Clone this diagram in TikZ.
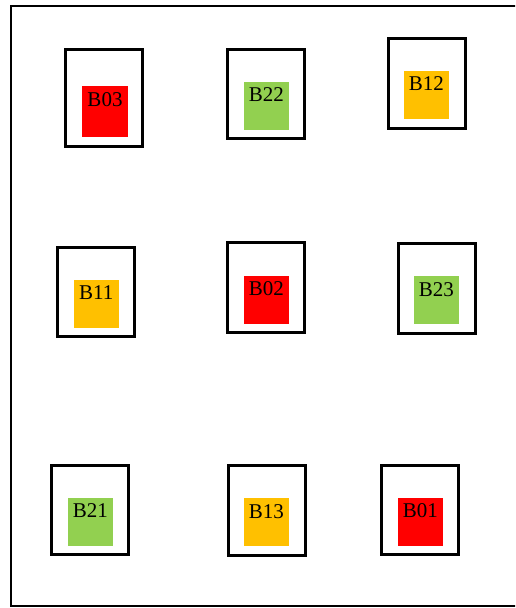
\documentclass[tikz,border=0pt]{standalone}
\usepackage{fontspec}
\setmainfont{Liberation Serif}
\usepackage{xcolor}
\usepackage{tikz}
\usetikzlibrary{positioning}

\definecolor{binred}{HTML}{FF0000}
\definecolor{bingold}{HTML}{FFC000}
\definecolor{bingreen}{HTML}{92D050}

\begin{document}
\begin{tikzpicture}[
        x=1pt, y=-1pt,
        frame/.style={rectangle, draw, line width=3pt, minimum width=77pt, minimum height=89.5pt, inner sep=0pt},
        bin/.style={rectangle, minimum width=44.7pt, inner sep=0pt, text height=20pt, text depth=28pt, font=\fontsize{21}{25}\selectfont},
        red/.style={bin, fill=binred},
        gold/.style={bin, fill=bingold},
        green/.style={bin, fill=bingreen}
    ]
        \useasboundingbox (0,0) rectangle (515,608);

        % Yard border (runs off the right edge)
        \begin{scope}
            \clip (0,0) rectangle (515,608);
            \draw[line width=2pt] (10.5,5.8) rectangle (530,606);
        \end{scope}

        % Row 1: B03, B22, B12
        \node[frame, minimum height=97.6pt] (f03) at (104.3,98) {};
        \node[red, minimum width=46pt, text depth=31pt] (b03) at (105,111.7) {B03};
        \node[frame] (f22) at (266.2,94.2) {};
        \node[green] (b22) at (266.3,105.7) {B22};
        \node[frame] (f12) at (426.5,83.5) {};
        \node[gold] (b12) at (426.3,94.8) {B12};

        % Row 2: B11, B02, B23
        \node[frame] (f11) at (96.2,292.2) {};
        \node[gold] (b11) at (96.3,303.7) {B11};
        \node[frame] (f02) at (266.3,287.5) {};
        \node[red] (b02) at (266.3,299.7) {B02};
        \node[frame] (f23) at (436.5,288.5) {};
        \node[green] (b23) at (436.3,300) {B23};

        % Row 3: B21, B13, B01
        \node[frame] (f21) at (90.2,510) {};
        \node[green] (b21) at (90.3,521.8) {B21};
        \node[frame] (f13) at (266.5,510.3) {};
        \node[gold] (b13) at (266.3,522) {B13};
        \node[frame] (f01) at (420.3,510) {};
        \node[red] (b01) at (420.3,521.8) {B01};

    \end{tikzpicture}
\end{document}
